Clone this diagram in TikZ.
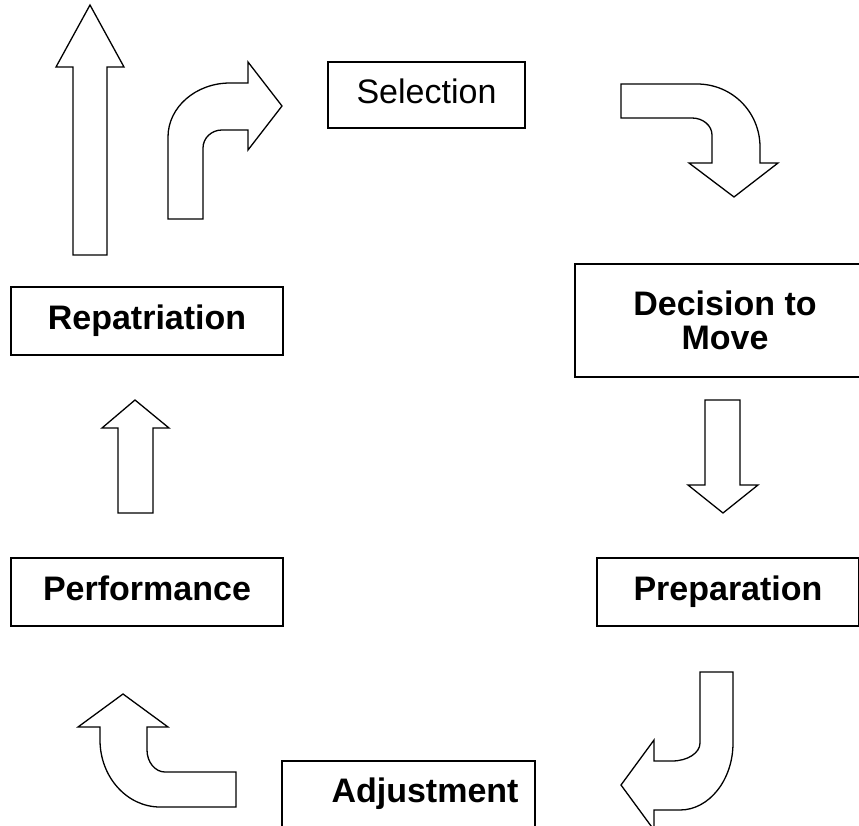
\documentclass[tikz,border=0pt]{standalone}
\usepackage{fontspec}
\setmainfont{Liberation Sans}
\usetikzlibrary{positioning}

\begin{document}
\begin{tikzpicture}[x=1pt,y=-1pt,
  font=\fontsize{34}{34}\selectfont,
  stage/.style={draw,line width=1.3pt,rectangle,inner sep=0pt,align=center},
  oneline/.style={stage,text height=24.5pt,text depth=7pt},
  strong/.style={font=\fontsize{34}{34}\selectfont\bfseries},
  blockarr/.style={draw,line width=1.3pt,line join=miter,fill=white},
]
  \useasboundingbox (0,0) rectangle (859,826);
  \clip (0,0) rectangle (859,826);

  % stages
  \node[oneline,minimum width=197pt,minimum height=66pt] (sel) at (426.5,95) {Selection};
  \node[stage,strong,minimum width=300pt,minimum height=113pt] (dec) at (725,320.5) {Decision to\\Move};
  \node[oneline,strong,minimum width=262pt,minimum height=68pt] (prep) at (728,592) {Preparation};
  \node[stage,minimum width=253pt,minimum height=68pt] (adj) at (408.5,795) {};
  \node[oneline,strong,draw=none] (adjtext) at (425,794) {Adjustment};
  \node[oneline,strong,minimum width=272pt,minimum height=68pt] (perf) at (147,592) {Performance};
  \node[oneline,strong,minimum width=272pt,minimum height=68pt] (rep) at (147,321) {Repatriation};

  % block arrows
  \draw[blockarr] (168,219) -- (168,137) .. controls (168,107) and (196,83) .. (230,83)
    -- (248,83) -- (248,62) -- (282,106) -- (248,150) -- (248,130) -- (222,130)
    .. controls (211.5,130) and (203,138) .. (203,148) -- (203,219) -- cycle;
  \draw[blockarr] (621,84) -- (697,84) .. controls (732,84) and (760,112) .. (760,147)
    -- (760,163) -- (778,163) -- (734,197) -- (689,163) -- (712,163) -- (712,135)
    .. controls (712,125.6) and (703,118) .. (692,118) -- (621,118) -- cycle;
  \draw[blockarr] (705,400) -- (740,400) -- (740,485) -- (758,485) -- (723,513)
    -- (688,485) -- (705,485) -- cycle;
  \draw[blockarr] (700,672) -- (733,672) -- (733,743) .. controls (733,780) and (709,810) .. (680,810)
    -- (654,810) -- (654,830) -- (621,785) -- (654,740) -- (654,761) -- (672,761)
    .. controls (687.5,761) and (700,753) .. (700,743) -- cycle;
  \draw[blockarr] (236,772) -- (236,807) -- (160,807) .. controls (127,807) and (100,777) .. (100,740)
    -- (100,727) -- (78,727) -- (123,694) -- (168,727) -- (147,727) -- (147,750)
    .. controls (147,762) and (155,772) .. (165,772) -- cycle;
  \draw[blockarr] (118,513) -- (118,428) -- (102,428) -- (135,400) -- (169,428)
    -- (153,428) -- (153,513) -- cycle;
  \draw[blockarr] (73,255) -- (73,67) -- (56,67) -- (90,5) -- (124,67)
    -- (107,67) -- (107,255) -- cycle;
\end{tikzpicture}
\end{document}
